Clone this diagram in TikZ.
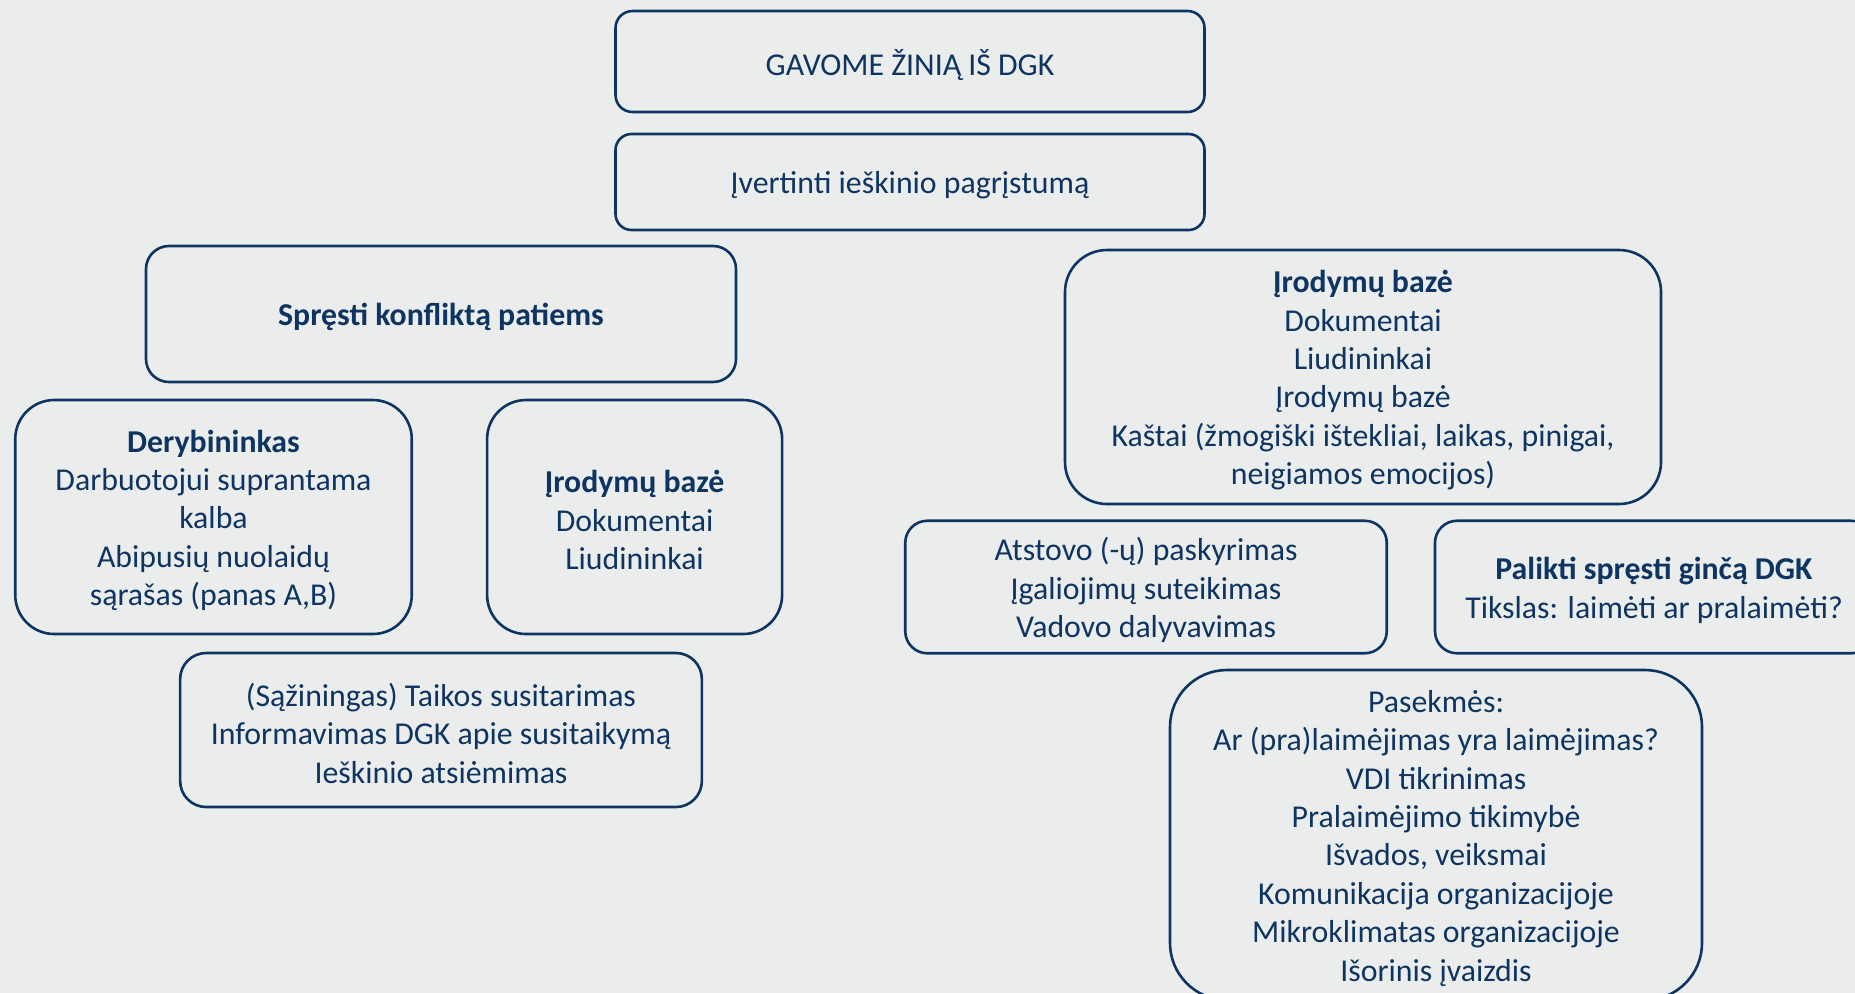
\documentclass[tikz,border=0pt]{standalone}
\usepackage{fontspec}
\setmainfont{Carlito}
\definecolor{navy}{HTML}{0E3462}
\definecolor{bgc}{HTML}{EBEDEC}
\tikzset{
  box/.style={draw=navy, line width=1.3pt, inner sep=0pt},
  txt/.style={text=navy, align=center, inner sep=0pt, yshift=-1.6pt,
    font=\fontsize{15.9}{19.2}\selectfont},
  wh/.style n args={3}{minimum width={#1*0.5pt}, minimum height={#2*0.5pt}, rounded corners={#3*0.5pt}}
}
\newcommand{\bx}[7]{%
  \node[box, wh={#4}{#5}{#6}] (#1) at (#2,#3) {};
  \node[txt] (#1-t) at (#1.center) {#7};}
\begin{document}
\begin{tikzpicture}[x=0.5pt,y=-0.5pt]
\useasboundingbox (0,0) rectangle (1855,993);
\fill[bgc] (0,0) rectangle (1855,993);
\bx{top}{910}{61.5}{589}{101}{17}{GAVOME ŽINIĄ IŠ DGK}
\bx{eval}{910}{182}{589}{96}{16}{Įvertinti ieškinio pagrįstumą}
\bx{self}{441}{314}{590}{136}{23}{\bfseries Spręsti konfliktą patiems}
\bx{neg}{213.5}{517}{396.5}{234}{39}{\bfseries Derybininkas\\Darbuotojui suprantama\\kalba\\Abipusių nuolaidų\\sąrašas (panas A,B)}
\bx{evl}{634.6}{517}{295}{234}{39}{\bfseries Įrodymų bazė\\Dokumentai\\Liudininkai}
\bx{peace}{441}{730}{521.7}{154}{26}{(Sąžiningas) Taikos susitarimas\\Informavimas DGK apie susitaikymą\\Ieškinio atsiėmimas}
\bx{evr}{1363}{377}{596}{254}{42}{\bfseries Įrodymų bazė\\Dokumentai\\Liudininkai\\Įrodymų bazė\\Kaštai (žmogiški ištekliai, laikas, pinigai,\\neigiamos emocijos)}
\bx{rep}{1146}{587}{481.5}{132.5}{22}{Atstovo (-ų) paskyrimas\\Įgaliojimų suteikimas\\Vadovo dalyvavimas}
\bx{leave}{1654}{587}{438}{132.5}{22}{\bfseries Palikti spręsti ginčą DGK\\Tikslas: laimėti ar pralaimėti?}
\bx{cons}{1436}{835}{532}{330}{57}{Pasekmės:\\Ar (pra)laimėjimas yra laimėjimas?\\VDI tikrinimas\\Pralaimėjimo tikimybė\\Išvados, veiksmai\\Komunikacija organizacijoje\\Mikroklimatas organizacijoje\\Išorinis įvaizdis}
\end{tikzpicture}
\end{document}
